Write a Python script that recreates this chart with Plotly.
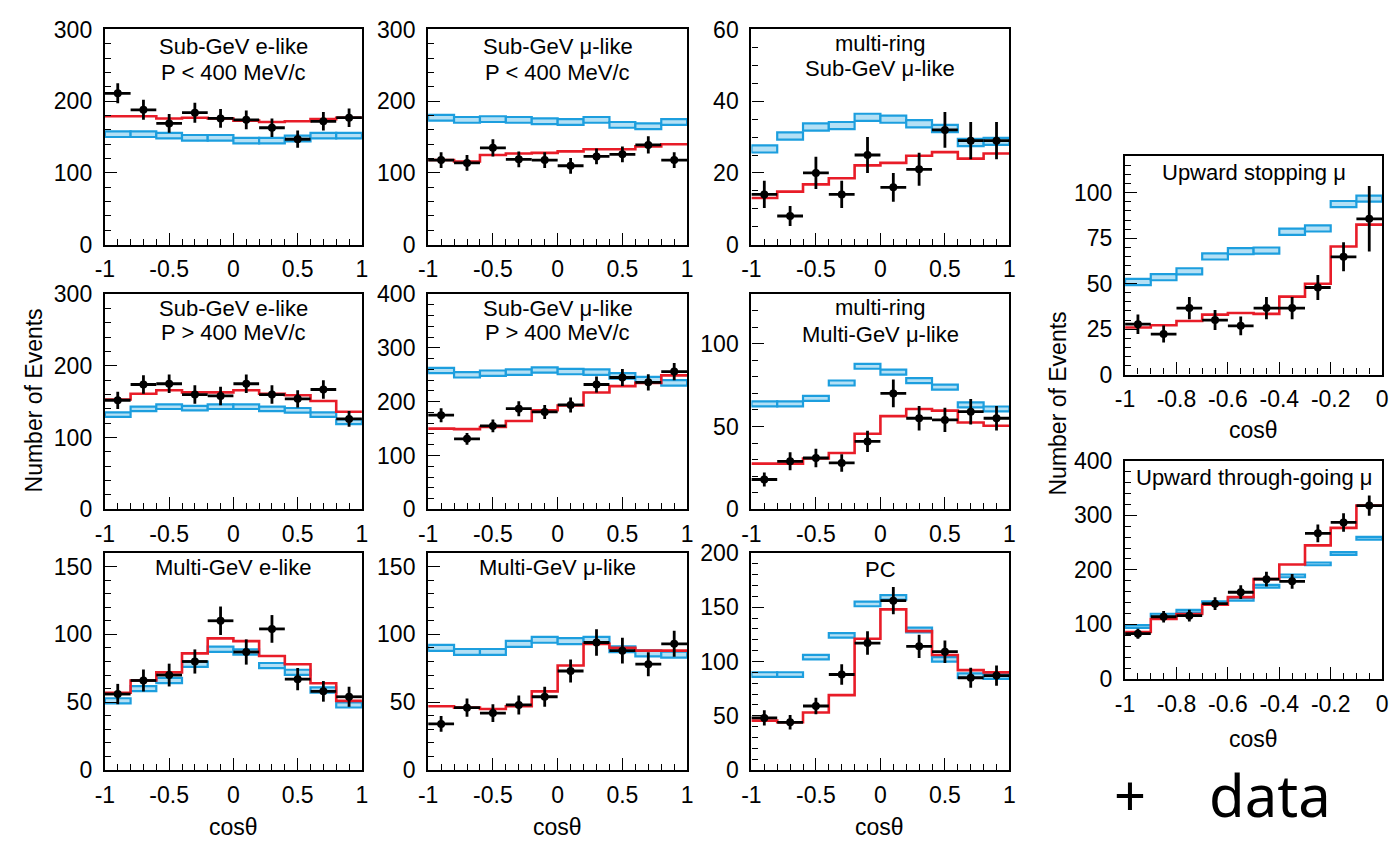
import numpy as np
import plotly.graph_objects as go

W, H = 1397, 848

# ---------------- bins ----------------
fc_centres = [-0.9, -0.7, -0.5, -0.3, -0.1, 0.1, 0.3, 0.5, 0.7, 0.9]
fc_edges = [-1.0, -0.8, -0.6, -0.4, -0.2, 0.0, 0.2, 0.4, 0.6, 0.8, 1.0]
up_centres = [-0.95, -0.85, -0.75, -0.65, -0.55, -0.45, -0.35, -0.25, -0.15, -0.05]
up_edges = [-1.0, -0.9, -0.8, -0.7, -0.6, -0.5, -0.4, -0.3, -0.2, -0.1, 0.0]

# ---------------- data ----------------
# Sub-GeV e-like P < 400 MeV/c
sge_lo_data = [211, 188, 169, 184, 176, 174, 163, 147, 172, 177]
sge_lo_err = [14, 14, 13, 14, 13, 13, 13, 12, 13, 13]
sge_lo_osc = [179, 179, 176, 177, 176, 173, 171, 172, 175, 177]
sge_lo_noosc = [154, 154, 152, 149, 149, 145, 145, 148, 152, 152]
sge_lo_noosc_err = [3.9, 3.9, 3.9, 3.9, 3.9, 3.9, 3.9, 3.9, 3.9, 3.9]

# Sub-GeV mu-like P < 400 MeV/c
sgm_lo_data = [118, 114, 135, 119, 118, 110, 123, 126, 139, 118]
sgm_lo_err = [11, 11, 12, 11, 11, 11, 11, 11, 12, 11]
sgm_lo_osc = [118, 116, 125, 127, 128, 130, 133, 133, 137, 140]
sgm_lo_noosc = [177, 174, 175, 174, 172, 171, 174, 167, 165, 171]
sgm_lo_noosc_err = [4, 4, 4, 4, 4, 4, 4, 4, 4, 4]

# multi-ring Sub-GeV mu-like
mrs_data = [14, 8, 20, 14, 25, 16, 21, 32, 29, 29]
mrs_err = [3.8, 2.8, 4.5, 3.8, 5.0, 4.0, 4.6, 5.0, 5.2, 5.2]
mrs_osc = [13.0, 14.8, 16.8, 18.5, 22.1, 22.8, 24.8, 25.8, 24.0, 25.4]
mrs_noosc = [26.7, 30.3, 32.8, 33.2, 35.5, 35.0, 33.7, 32.4, 28.5, 28.8]
mrs_noosc_err = [1.0, 1.0, 1.0, 1.0, 1.0, 1.0, 1.0, 1.0, 1.0, 1.0]

# Sub-GeV e-like P > 400 MeV/c
sge_hi_data = [152, 174, 175, 160, 158, 175, 160, 154, 167, 126]
sge_hi_err = [12, 13, 13, 13, 13, 13, 13, 12, 13, 11]
sge_hi_osc = [153, 161, 166, 163, 163, 166, 161, 159, 151, 136]
sge_hi_noosc = [132, 140, 143, 141, 143, 143, 140, 138, 132, 122]
sge_hi_noosc_err = [3.2, 3.2, 3.2, 3.2, 3.2, 3.2, 3.2, 3.2, 3.2, 3.2]

# Sub-GeV mu-like P > 400 MeV/c
sgm_hi_data = [175, 131, 155, 187, 181, 194, 232, 245, 236, 256]
sgm_hi_err = [13, 11, 12, 14, 13, 14, 15, 16, 15, 16]
sgm_hi_osc = [150, 149, 153, 164, 184, 193, 217, 229, 235, 249]
sgm_hi_noosc = [258, 250, 253, 255, 259, 256, 255, 248, 241, 235]
sgm_hi_noosc_err = [5, 5, 5, 5, 5, 5, 5, 5, 5, 5]

# multi-ring Multi-GeV mu-like
mrm_data = [18, 29, 31, 28, 41, 70, 55, 54, 59, 55]
mrm_err = [4.2, 5.4, 5.6, 5.3, 6.4, 8.4, 7.4, 7.3, 7.7, 7.4]
mrm_osc = [27.6, 27.6, 30.7, 34.0, 45.6, 56.3, 60.6, 59.6, 52.4, 50.5]
mrm_noosc = [63.7, 63.7, 67.0, 76.3, 86.4, 82.9, 77.7, 73.8, 63.1, 60.6]
mrm_noosc_err = [1.5, 1.5, 1.5, 1.5, 1.5, 1.5, 1.5, 1.5, 1.5, 1.5]

# Multi-GeV e-like
mge_data = [56, 66, 70, 80, 110, 87, 104, 67, 58, 54]
mge_err = [7.5, 8.1, 8.4, 8.9, 10.5, 9.3, 10.2, 8.2, 7.6, 7.4]
mge_osc = [57, 66, 72, 86, 97, 95, 84, 78, 64, 51]
mge_noosc = [51, 60, 66, 78, 89, 87, 77, 72, 59, 48]
mge_noosc_err = [1.9, 1.9, 1.9, 1.9, 1.9, 1.9, 1.9, 1.9, 1.9, 1.9]

# Multi-GeV mu-like
mgm_data = [34, 46, 42, 48, 54, 73, 94, 88, 78, 93]
mgm_err = [5.8, 6.8, 6.5, 7.0, 7.3, 8.5, 9.7, 9.4, 8.8, 9.6]
mgm_osc = [47, 46, 45, 47, 58, 77, 93, 90, 88, 88]
mgm_noosc = [90, 87, 87, 93, 96, 95, 96, 89, 86, 85]
mgm_noosc_err = [2.2, 2.2, 2.2, 2.2, 2.2, 2.2, 2.2, 2.2, 2.2, 2.2]

# PC
pc_data = [48, 44, 59, 88, 117, 156, 114, 109, 85, 87]
pc_err = [7.0, 6.6, 7.7, 9.4, 10.8, 12.5, 10.7, 10.4, 9.2, 9.3]
pc_osc = [45.5, 44, 53, 69, 121, 148, 128, 106, 92, 90]
pc_noosc = [88, 88, 104, 124, 153, 159, 129, 102, 87, 86]
pc_noosc_err = [2.1, 2.1, 2.1, 2.1, 2.1, 2.1, 2.1, 2.1, 2.1, 2.1]

# Upward stopping mu
ups_data = [27.7, 22.3, 36.6, 30.0, 26.8, 36.6, 36.6, 47.9, 64.8, 85.7]
ups_err = [5.4, 4.7, 6.1, 5.5, 5.2, 6.1, 6.1, 6.9, 8.0, 18.0]
ups_osc = [25.9, 27.1, 29.5, 33.0, 33.9, 33.4, 42.9, 50.0, 70.5, 82.5]
ups_noosc = [50.9, 53.6, 56.8, 65.0, 67.9, 68.2, 78.6, 80.4, 93.8, 96.8]
ups_noosc_err = [1.7, 1.7, 1.7, 1.7, 1.7, 1.7, 1.7, 1.7, 1.7, 1.7]

# Upward through-going mu
upt_data = [83, 114, 116, 138, 159, 183, 179, 267, 287, 318]
upt_err = [9.1, 10.7, 10.8, 11.7, 12.6, 13.5, 13.4, 16.3, 17.0, 18.5]
upt_osc = [86, 110, 119, 136, 150, 183, 210, 245, 277, 318]
upt_noosc = [96, 117, 124, 140, 146, 170, 189, 211, 230, 258]
upt_noosc_err = [2.5, 2.5, 2.5, 2.5, 2.5, 2.5, 2.5, 2.5, 2.5, 2.5]

fc_ticks = [-1, -0.5, 0, 0.5, 1]
fc_ticktext = ["-1", "-0.5", "0", "0.5", "1"]
up_ticks = [-1, -0.8, -0.6, -0.4, -0.2, 0]
up_ticktext = ["-1", "-0.8", "-0.6", "-0.4", "-0.2", "0"]

# ---------------- styles / layout ----------------
FONT = "Liberation Sans, Arial, Helvetica, sans-serif"
BLUE = "rgb(28,158,222)"
BLUE_FILL = "rgb(180,224,245)"
RED = "rgb(232,28,40)"

panels = [
    (sge_lo_data, sge_lo_err, sge_lo_osc, sge_lo_noosc, sge_lo_noosc_err, "fc", 300, 100, 20, (96, 356, 17, 239),
     [("Sub-GeV e-like", 35), ("P < 400 MeV/c", 61)]),
    (sgm_lo_data, sgm_lo_err, sgm_lo_osc, sgm_lo_noosc, sgm_lo_noosc_err, "fc", 300, 100, 20, (423, 685, 17, 239),
     [("Sub-GeV μ-like", 35), ("P < 400 MeV/c", 61)]),
    (mrs_data, mrs_err, mrs_osc, mrs_noosc, mrs_noosc_err, "fc", 60, 20, 5, (750, 1011, 17, 239),
     [("multi-ring", 31), ("Sub-GeV μ-like", 57)]),
    (sge_hi_data, sge_hi_err, sge_hi_osc, sge_hi_noosc, sge_hi_noosc_err, "fc", 300, 100, 20, (96, 356, 290, 512),
     [("Sub-GeV e-like", 305), ("P > 400 MeV/c", 330)]),
    (sgm_hi_data, sgm_hi_err, sgm_hi_osc, sgm_hi_noosc, sgm_hi_noosc_err, "fc", 400, 100, 20, (423, 685, 290, 512),
     [("Sub-GeV μ-like", 305), ("P > 400 MeV/c", 330)]),
    (mrm_data, mrm_err, mrm_osc, mrm_noosc, mrm_noosc_err, "fc", 130, 50, 10, (750, 1011, 290, 512),
     [("multi-ring", 304), ("Multi-GeV μ-like", 332)]),
    (mge_data, mge_err, mge_osc, mge_noosc, mge_noosc_err, "fc", 160, 50, 10, (96, 356, 557, 781),
     [("Multi-GeV e-like", 572)]),
    (mgm_data, mgm_err, mgm_osc, mgm_noosc, mgm_noosc_err, "fc", 160, 50, 10, (423, 685, 557, 781),
     [("Multi-GeV μ-like", 572)]),
    (pc_data, pc_err, pc_osc, pc_noosc, pc_noosc_err, "fc", 200, 50, 10, (750, 1011, 557, 781),
     [("PC", 574)]),
    (ups_data, ups_err, ups_osc, ups_noosc, ups_noosc_err, "up", 120, 25, 5, (1128, 1388, 148, 373),
     [("Upward stopping μ", 165)]),
    (upt_data, upt_err, upt_osc, upt_noosc, upt_noosc_err, "up", 400, 100, 20, (1128, 1388, 462, 687),
     [("Upward through-going μ", 479)]),
]

fig = go.Figure()
annotations = []
layout = {}

for i, (dat, err, osc, nos, nos_err, kind, ymax, ymaj, ymin, box, tlines) in enumerate(panels):
    n = i + 1
    sfx = "" if n == 1 else str(n)
    xa, ya = "x" + sfx, "y" + sfx
    if kind == "fc":
        centres, edges, halfw = fc_centres, fc_edges, 0.1
        xrange, tv, tt, xminor = [-1, 1], fc_ticks, fc_ticktext, 0.1
    else:
        centres, edges, halfw = up_centres, up_edges, 0.05
        xrange, tv, tt, xminor = [-1, 0], up_ticks, up_ticktext, 0.05

    # no-oscillation MC boxes
    fig.add_trace(go.Bar(
        x=centres, y=[2 * e for e in nos_err], base=[v - e for v, e in zip(nos, nos_err)],
        width=2 * halfw, marker=dict(color=BLUE_FILL, line=dict(color=BLUE, width=2.2)),
        xaxis=xa, yaxis=ya, showlegend=False, hoverinfo="skip"))
    # oscillated MC (step line)
    fig.add_trace(go.Scatter(
        x=edges, y=list(osc) + [osc[-1]], mode="lines",
        line=dict(color=RED, width=2.6, shape="hv"),
        xaxis=xa, yaxis=ya, showlegend=False, hoverinfo="skip"))
    # data
    fig.add_trace(go.Scatter(
        x=centres, y=dat, mode="markers",
        marker=dict(color="black", size=8),
        error_x=dict(type="constant", value=halfw, width=0, thickness=2.8, color="black"),
        error_y=dict(type="data", array=err, width=0, thickness=2.8, color="black"),
        xaxis=xa, yaxis=ya, showlegend=False))

    x0, x1, y0, y1 = box
    common = dict(showline=True, linecolor="black", linewidth=2.2, mirror=True,
                  showgrid=False, zeroline=False, ticks="inside", ticklen=12,
                  tickwidth=1.4, tickcolor="black",
                  tickfont=dict(family=FONT, size=23, color="black"))
    xminor_vals = list(np.round(np.arange(xrange[0], xrange[1] + 1e-9, xminor), 3))
    layout["xaxis" + sfx] = dict(
        domain=[x0 / W, x1 / W], range=xrange, anchor=ya,
        tickmode="array", tickvals=tv, ticktext=tt, ticklabelstandoff=3,
        minor=dict(tickmode="array", tickvals=xminor_vals, ticks="inside", ticklen=6,
                   tickwidth=1, tickcolor="black", showgrid=False),
        **common)
    yt = list(range(0, ymax + 1, ymaj))
    yminor_vals = list(range(0, ymax + 1, ymin))
    layout["yaxis" + sfx] = dict(
        domain=[1 - y1 / H, 1 - y0 / H], range=[0, ymax], anchor=xa,
        tickmode="array", tickvals=yt, ticktext=[str(v) for v in yt], ticklabelstandoff=6,
        minor=dict(tickmode="array", tickvals=yminor_vals, ticks="inside", ticklen=6,
                   tickwidth=1, tickcolor="black", showgrid=False),
        **common)

    xc = (x0 + x1) / 2
    for text, ty in tlines:
        annotations.append(dict(text=text, x=xc / W, y=1 - ty / H, xref="paper", yref="paper",
                                xanchor="center", yanchor="middle", showarrow=False,
                                font=dict(family=FONT, size=22, color="black")))

# axis titles
for (cx, cy) in [(226, 840), (554, 840), (880, 840), (1258, 430), (1258, 749)]:
    annotations.append(dict(text="cosθ", x=cx / W, y=1 - cy / H, xref="paper", yref="paper",
                            xanchor="center", yanchor="middle", showarrow=False,
                            font=dict(family=FONT, size=23, color="black")))
for (cx, cy) in [(24, 400), (1060, 403)]:
    annotations.append(dict(text="Number of Events", x=cx / W, y=1 - cy / H, xref="paper", yref="paper",
                            xanchor="center", yanchor="middle", showarrow=False, textangle=-90,
                            font=dict(family=FONT, size=23, color="black")))

# handwritten note
annotations.append(dict(text="+", x=1133 / W, y=1 - 806 / H, xref="paper", yref="paper",
                        xanchor="center", yanchor="middle", showarrow=False,
                        font=dict(family="Noto Sans", size=56, color="black")))
annotations.append(dict(text="data", x=1275 / W, y=1 - 806 / H, xref="paper", yref="paper",
                        xanchor="center", yanchor="middle", showarrow=False,
                        font=dict(family="Noto Sans", size=58, color="black")))

fig.update_layout(
    width=W, height=H, autosize=False,
    margin=dict(l=0, r=0, t=0, b=0),
    paper_bgcolor="white", plot_bgcolor="white",
    barmode="overlay", showlegend=False,
    annotations=annotations,
    **layout)

fig.write_html("out.html")
